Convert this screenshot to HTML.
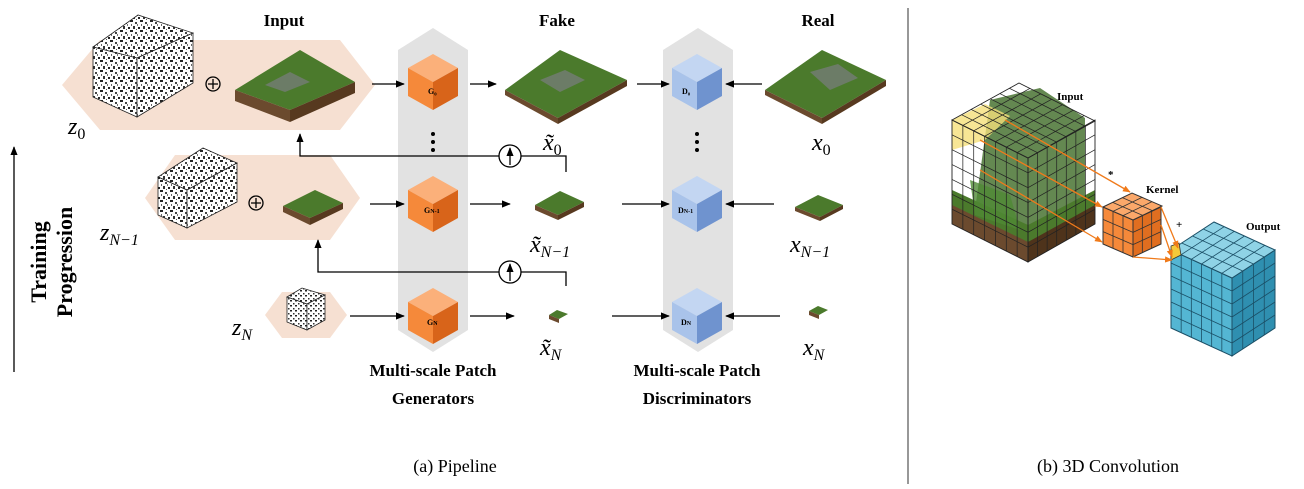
<!DOCTYPE html>
<html><head><meta charset="utf-8"><style>
body{margin:0;background:#fff;width:1304px;height:484px;overflow:hidden}
svg text{font-family:"Liberation Serif",serif}
</style></head><body>
<svg id="s" width="1304" height="484" viewBox="0 0 1304 484" xmlns="http://www.w3.org/2000/svg">
<defs>
<pattern id="nz" width="10" height="10" patternUnits="userSpaceOnUse">
<rect width="10" height="10" fill="#fff"/>
<rect x="0" y="0" width="3" height="2" fill="#222"/><rect x="5" y="2" width="2" height="2" fill="#444"/>
<rect x="3" y="6" width="2" height="3" fill="#333"/><rect x="8" y="7" width="2" height="2" fill="#222"/>
<rect x="7" y="4" width="1" height="2" fill="#777"/><rect x="1" y="4" width="1" height="2" fill="#666"/>
<rect x="6" y="9" width="1" height="1" fill="#555"/>
</pattern>
<pattern id="nzs" width="5" height="5" patternUnits="userSpaceOnUse">
<rect width="5" height="5" fill="#fff"/><rect width="2" height="1.5" fill="#222"/><rect x="3" y="3" width="1.5" height="1.5" fill="#333"/>
</pattern>
<marker id="ah" viewBox="0 0 10 10" refX="9" refY="5" markerWidth="7" markerHeight="7" orient="auto"><path d="M0,1 L10,5 L0,9 z" fill="#000"/></marker>
<marker id="ao" viewBox="0 0 10 10" refX="9" refY="5" markerWidth="6" markerHeight="6" orient="auto"><path d="M0,1 L10,5 L0,9 z" fill="#f07a1a"/></marker>
</defs>

<line x1="908" y1="8" x2="908" y2="484" stroke="#777" stroke-width="1.5"/>

<polygon points="62,85 100,40 340,40 375,85 340,130 100,130" fill="#f6e0d2"/>
<polygon points="145,198 175,155 330,155 360,198 330,240 175,240" fill="#f6e0d2"/>
<polygon points="265,315 282,292 330,292 347,315 330,338 282,338" fill="#f6e0d2"/>

<polygon points="398,50 433,28 468,50 468,330 433,352 398,330" fill="#e2e2e2"/>
<polygon points="663,50 698,28 733,50 733,330 698,352 663,330" fill="#e2e2e2"/>

<g stroke="#222" stroke-width="0.8">
<polygon points="93,47 138,15 193,33 137,58" fill="url(#nz)"/>
<polygon points="93,47 137,58 137,117 93,97" fill="url(#nz)"/>
<polygon points="137,58 193,33 193,83 137,117" fill="url(#nz)"/>
<polygon points="158,177 203,148 237,163 187,190" fill="url(#nz)"/>
<polygon points="158,177 187,190 187,228 158,215" fill="url(#nz)"/>
<polygon points="187,190 237,163 237,202 187,228" fill="url(#nz)"/>
<polygon points="287,297 302,288 325,295 307,304" fill="url(#nzs)"/>
<polygon points="287,297 307,304 307,330 287,322" fill="url(#nzs)"/>
<polygon points="307,304 325,295 325,320 307,330" fill="url(#nzs)"/>
</g>
<g fill="none" stroke="#000" stroke-width="1.3">
<circle cx="213" cy="84" r="7"/><path d="M208,84h10M213,79v10"/>
<circle cx="256" cy="203" r="7"/><path d="M251,203h10M256,198v10"/>
</g>

<g>
<polygon points="235,90 300,50 355,82 290,110" fill="#4b7a2c"/>
<polygon points="235,90 290,110 290,122 235,101" fill="#6b4a2e"/>
<polygon points="290,110 355,82 355,93 290,122" fill="#57391f"/>
<polygon points="265,85 290,72 310,82 285,92" fill="#7a7d80" opacity=".7"/>

<polygon points="505,90 560,50 627,80 558,118" fill="#4b7a2c"/>
<polygon points="505,90 558,118 558,124 505,95" fill="#6b4a2e"/>
<polygon points="558,118 627,80 627,86 558,124" fill="#57391f"/>
<polygon points="540,80 565,70 585,80 560,92" fill="#7a7d80" opacity=".7"/>

<polygon points="765,90 822,50 886,80 822,118" fill="#4b7a2c"/>
<polygon points="765,90 822,118 822,124 765,95" fill="#6b4a2e"/>
<polygon points="822,118 886,80 886,86 822,124" fill="#57391f"/>
<polygon points="810,72 838,64 858,78 830,90" fill="#7a7d80" opacity=".7"/>

<polygon points="283,206 315,190 343,203 310,218" fill="#4b7a2c"/>
<polygon points="283,206 310,218 310,225 283,212" fill="#6b4a2e"/>
<polygon points="310,218 343,203 343,209 310,225" fill="#57391f"/>

<polygon points="535,205 560,191 584,202 558,215" fill="#4b7a2c"/>
<polygon points="535,205 558,215 558,220 535,210" fill="#6b4a2e"/>
<polygon points="558,215 584,202 584,207 558,220" fill="#57391f"/>

<polygon points="795,207 818,195 843,205 820,217" fill="#4b7a2c"/>
<polygon points="795,207 820,217 820,221 795,211" fill="#6b4a2e"/>
<polygon points="820,217 843,205 843,209 820,221" fill="#57391f"/>

<polygon points="549,315 557,310 568,314 559,319" fill="#4b7a2c"/>
<polygon points="549,315 559,319 559,323 549,319" fill="#6b4a2e"/>
<polygon points="809,311 818,306 828,310 819,315" fill="#4b7a2c"/>
<polygon points="809,311 819,315 819,319 809,315" fill="#6b4a2e"/>
</g>

<g id="cubes"></g>
<g font-size="8" font-weight="bold" fill="#000">
<text x="428" y="94">G₀</text><text x="424" y="213">G<tspan font-size="6">N-1</tspan></text><text x="427" y="325">G<tspan font-size="6">N</tspan></text>
<text x="682" y="94">D₀</text><text x="678" y="213">D<tspan font-size="6">N-1</tspan></text><text x="681" y="325">D<tspan font-size="6">N</tspan></text>
</g>
<g fill="#000"><circle cx="433" cy="134" r="2"/><circle cx="433" cy="142" r="2"/><circle cx="433" cy="150" r="2"/>
<circle cx="697" cy="134" r="2"/><circle cx="697" cy="142" r="2"/><circle cx="697" cy="150" r="2"/></g>

<g stroke="#000" stroke-width="1.3" fill="none" marker-end="url(#ah)">
<line x1="372" y1="84" x2="404" y2="84"/>
<line x1="470" y1="84" x2="496" y2="84"/>
<line x1="637" y1="84" x2="669" y2="84"/>
<line x1="762" y1="84" x2="726" y2="84"/>
<line x1="370" y1="204" x2="404" y2="204"/>
<line x1="470" y1="204" x2="510" y2="204"/>
<line x1="622" y1="204" x2="669" y2="204"/>
<line x1="774" y1="204" x2="726" y2="204"/>
<line x1="350" y1="316" x2="404" y2="316"/>
<line x1="470" y1="316" x2="514" y2="316"/>
<line x1="612" y1="316" x2="669" y2="316"/>
<line x1="780" y1="316" x2="726" y2="316"/>
<polyline points="566,172 566,156 300,156 300,134"/>
<polyline points="566,286 566,272 318,272 318,240"/>
<line x1="14" y1="372" x2="14" y2="147"/>
</g>
<g fill="#fff" stroke="#000" stroke-width="1.3"><circle cx="510" cy="156" r="11"/><circle cx="510" cy="272" r="11"/></g>
<g stroke="#000" stroke-width="1.3" marker-end="url(#ah)"><line x1="510" y1="165" x2="510" y2="148"/><line x1="510" y1="281" x2="510" y2="264"/></g>

<g font-weight="bold" font-size="17" text-anchor="middle">
<text x="284" y="26">Input</text><text x="557" y="26">Fake</text><text x="818" y="26">Real</text>
<text x="433" y="376">Multi-scale Patch</text><text x="433" y="404">Generators</text>
<text x="697" y="376">Multi-scale Patch</text><text x="697" y="404">Discriminators</text>
</g>
<g font-style="italic" font-size="24">
<text x="68" y="134">z<tspan font-size="16" font-style="normal" dy="5">0</tspan></text>
<text x="100" y="240">z<tspan font-size="16" dy="5"><tspan font-style="italic">N</tspan>−1</tspan></text>
<text x="232" y="335">z<tspan font-size="16" font-style="italic" dy="5">N</tspan></text>
<text x="543" y="150">x̃<tspan font-size="16" font-style="normal" dy="5">0</tspan></text>
<text x="812" y="150">x<tspan font-size="16" font-style="normal" dy="5">0</tspan></text>
<text x="530" y="252">x̃<tspan font-size="16" dy="5"><tspan font-style="italic">N</tspan>−1</tspan></text>
<text x="790" y="252">x<tspan font-size="16" dy="5"><tspan font-style="italic">N</tspan>−1</tspan></text>
<text x="540" y="355">x̃<tspan font-size="16" font-style="italic" dy="5">N</tspan></text>
<text x="803" y="355">x<tspan font-size="16" font-style="italic" dy="5">N</tspan></text>
</g>
<g font-weight="bold" font-size="22" text-anchor="middle">
<text transform="translate(46,262) rotate(-90)">Training</text>
<text transform="translate(72,262) rotate(-90)">Progression</text>
</g>
<g font-size="18" text-anchor="middle">
<text x="455" y="472">(a) Pipeline</text><text x="1108" y="472">(b) 3D Convolution</text>
</g>

<g id="right"></g>
<g stroke="#f07a1a" stroke-width="1.3" fill="none" marker-end="url(#ao)">
<line x1="1005" y1="120" x2="1130" y2="192"/>
<line x1="980" y1="140" x2="1102" y2="207"/>
<line x1="980" y1="170" x2="1102" y2="242"/>
<line x1="1161" y1="207" x2="1178" y2="248"/>
<line x1="1161" y1="225" x2="1172" y2="257"/>
<line x1="1133" y1="257" x2="1172" y2="260"/>
</g>
<g font-weight="bold" font-size="11">
<text x="1057" y="100">Input</text><text x="1146" y="193">Kernel</text><text x="1246" y="230">Output</text>
<text x="1108" y="178">*</text><text x="1176" y="228">+</text>
</g>
</svg>
<script>
var NS="http://www.w3.org/2000/svg";
function el(p,t,a){var e=document.createElementNS(NS,t);for(var k in a)e.setAttribute(k,a[k]);p.appendChild(e);return e;}
function pts(a){return a.map(function(p){return p[0]+","+p[1]}).join(" ");}
var cubes=document.getElementById("cubes");
function cube(cx,ty,w,h,top,l,r){
 var hw=w/2,d=h*0.25;
 el(cubes,"polygon",{points:pts([[cx,ty],[cx+hw,ty+d],[cx,ty+2*d],[cx-hw,ty+d]]),fill:top});
 el(cubes,"polygon",{points:pts([[cx-hw,ty+d],[cx,ty+2*d],[cx,ty+h],[cx-hw,ty+h-d]]),fill:l});
 el(cubes,"polygon",{points:pts([[cx,ty+2*d],[cx+hw,ty+d],[cx+hw,ty+h-d],[cx,ty+h]]),fill:r});
}
[54,176,288].forEach(function(y){cube(433,y,50,56,"#fbb07a","#f5893a","#d8641a");cube(697,y,50,56,"#c3d6f2","#a9c3ea","#6f93cf");});
var R=document.getElementById("right");
function face(o,u,v,n,m,fill,stroke,sw){
 el(R,"polygon",{points:pts([o,[o[0]+u[0],o[1]+u[1]],[o[0]+u[0]+v[0],o[1]+u[1]+v[1]],[o[0]+v[0],o[1]+v[1]]]),fill:fill,stroke:stroke,"stroke-width":sw});
 for(var i=1;i<n;i++){var a=[o[0]+u[0]*i/n,o[1]+u[1]*i/n];el(R,"line",{x1:a[0],y1:a[1],x2:a[0]+v[0],y2:a[1]+v[1],stroke:stroke,"stroke-width":sw*0.8});}
 for(var j=1;j<m;j++){var b=[o[0]+v[0]*j/m,o[1]+v[1]*j/m];el(R,"line",{x1:b[0],y1:b[1],x2:b[0]+u[0],y2:b[1]+u[1],stroke:stroke,"stroke-width":sw*0.8});}
}
function poly(a,f,o){el(R,"polygon",{points:pts(a),fill:f,opacity:o||1});}
var H=104;
poly([[990,100],[1040,88],[1085,118],[1085,200],[1028,235],[975,210]],"#3d6a26",0.8);
poly([[952,190],[1028,225],[1095,190],[1095,224],[1028,262],[952,224]],"#4b7a2c");
poly([[952,205],[1028,242],[1028,262],[952,224]],"#6b4a2e");
poly([[1028,242],[1095,205],[1095,224],[1028,262]],"#4e331b");
poly([[970,180],[1010,195],[1020,230],[975,215]],"#4f8a34",0.8);
poly([[952,120],[985,104],[1010,116],[985,140],[952,150]],"#f5e07a",0.8);
face([952,120],[76,38],[0,H],7,7,"none","#222",0.9);
face([1028,158],[67,-38],[0,H],7,7,"none","#222",0.9);
face([952,120],[67,-37],[76,38],7,7,"none","#222",0.9);
face([1103,207],[30,13],[0,37],3,3,"#f5893a","#333",1);
face([1133,220],[28,-13],[0,37],3,3,"#e06e20","#333",1);
face([1103,207],[29,-14],[30,13],3,3,"#fba86a","#333",1);
face([1171,250],[61,28],[0,78],6,6,"#54b6d3","#1b4f66",1);
face([1232,278],[43,-28],[0,78],4,6,"#2f8fb0","#1b4f66",1);
face([1171,250],[43,-28],[61,28],4,6,"#8fd3e6","#1b4f66",1);
el(R,"polygon",{points:pts([[1171,246],[1179,243],[1181,255],[1171,260]]),fill:"#f5c93a",stroke:"#333","stroke-width":0.8});
</script>
</body></html>
